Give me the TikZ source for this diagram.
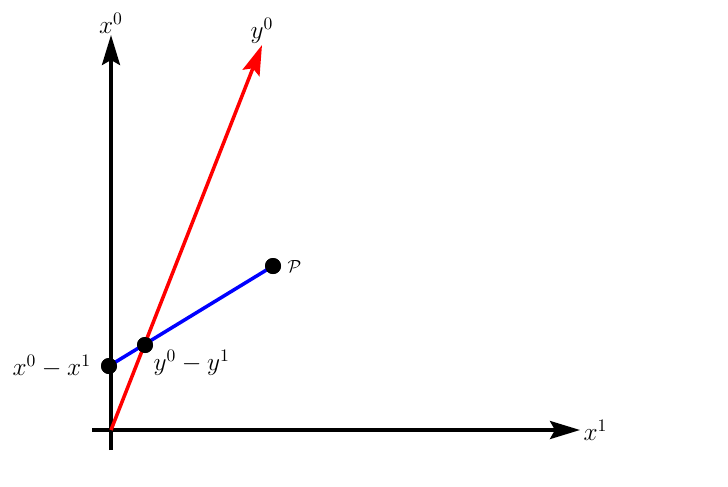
\documentclass[tikz,border=0pt]{standalone}
\usetikzlibrary{arrows.meta,positioning}
\tikzset{
  axis/.style={line width=2pt, -{Stealth[length=6mm, width=3.6mm, inset=1mm]}},
  pt/.style={circle, fill=black, inner sep=0pt, minimum size=3.2mm},
  lbl/.style={font=\Large, text=black}
}
\begin{document}
\begin{tikzpicture}
	\useasboundingbox (-2.22,-1.12) rectangle (12.34,8.6);
	\coordinate (O) at (0,0);
	\coordinate (xs) at (-0.38,0);
	\coordinate (xe) at (9.38,0);
	\coordinate (ys) at (0,-0.4);
	\coordinate (ye) at (0,7.9);
	\coordinate (re) at (3.02,7.7);
	\node[pt] (A) at (-0.04,1.28) {};
	\node[pt] (B) at (0.68,1.7) {};
	\node[pt] (P) at (3.24,3.28) {};
	\draw[axis] (xs) -- (xe) node[right, lbl, inner sep=1pt] {$x^1$};
	\draw[axis] (ys) -- (ye) node[above, lbl, inner sep=0pt] {$x^0$};
	\draw[axis, red] (O) -- (re) node[above, lbl, inner sep=0pt] {$y^0$};
	\draw[blue, line width=2pt] (A.center) -- (P.center);
	\node[pt] at (A) {};
	\node[pt] at (B) {};
	\node[pt] at (P) {};
	\node[lbl, left=2pt of A] (Alab) {$x^0 - x^1$};
	\node[lbl, below right=-4pt and -2pt of B] (Blab) {$y^0 - y^1$};
	\node[right=0pt of P] (Plab) {$\mathcal{P}$};
\end{tikzpicture}
\end{document}
